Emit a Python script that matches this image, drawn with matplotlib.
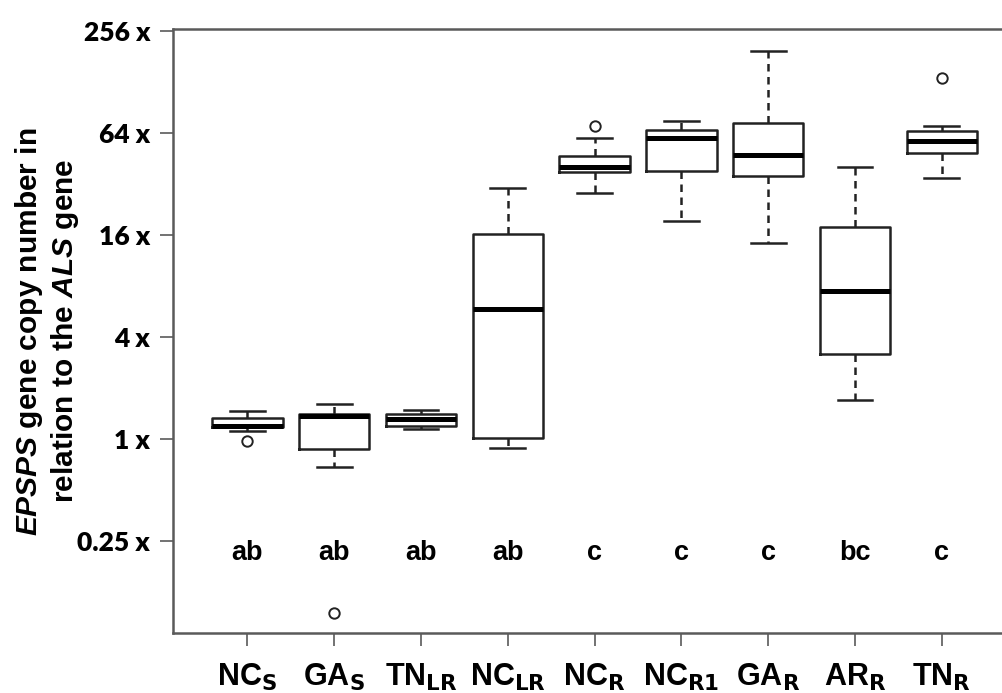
import matplotlib
matplotlib.use("Agg")
import matplotlib.pyplot as plt

# EPSPS copy number (relative to ALS) per population
groups = ["NC$_\\mathbf{S}$", "GA$_\\mathbf{S}$", "TN$_\\mathbf{LR}$", "NC$_\\mathbf{LR}$",
          "NC$_\\mathbf{R}$", "NC$_\\mathbf{R1}$", "GA$_\\mathbf{R}$", "AR$_\\mathbf{R}$",
          "TN$_\\mathbf{R}$"]
whislo = [1.12, 0.686, 1.15, 0.889, 28.2, 19.4, 14.4, 1.70, 34.6]
q1 = [1.17, 0.873, 1.19, 1.02, 37.8, 38.4, 35.8, 3.17, 48.6]
medians = [1.20, 1.37, 1.32, 5.83, 40.5, 59.5, 47.7, 7.47, 57.4]
q3 = [1.33, 1.41, 1.41, 16.2, 46.8, 66.7, 73.0, 17.8, 65.5]
whishi = [1.46, 1.62, 1.48, 30.3, 59.5, 75.6, 195.0, 40.5, 70.4]
outliers = [[0.97], [0.0944], [], [], [70.1], [], [], [], [135.7]]
letters = ["ab", "ab", "ab", "ab", "c", "c", "c", "bc", "c"]

yticks = [0.25, 1, 4, 16, 64, 256]
ytick_labels = ["0.25 x", "1 x", "4 x", "16 x", "64 x", "256 x"]

plt.rcParams["mathtext.fontset"] = "custom"
plt.rcParams["mathtext.bf"] = "Liberation Sans Narrow:bold"
plt.rcParams["mathtext.it"] = "Liberation Sans:italic:bold"
plt.rcParams["mathtext.rm"] = "Liberation Sans:bold"

fig = plt.figure(figsize=(10.03, 6.93), dpi=100)
ax = fig.add_axes([0.1725, 0.0866, 1 - 0.1725, 0.958 - 0.0866])

stats = []
for i in range(len(groups)):
    stats.append(dict(med=medians[i], q1=q1[i], q3=q3[i],
                      whislo=whislo[i], whishi=whishi[i], fliers=outliers[i]))

line_col = "#222222"
positions = list(range(1, len(groups) + 1))
ax.bxp(stats, positions=positions, widths=0.81, showfliers=True,
       boxprops=dict(color=line_col, linewidth=1.8),
       medianprops=dict(color="black", linewidth=3.6),
       whiskerprops=dict(color=line_col, linewidth=1.8, linestyle=(0, (3, 2.2))),
       capprops=dict(color=line_col, linewidth=1.8),
       capwidths=0.4,
       flierprops=dict(marker="o", markersize=7.5, markerfacecolor="none",
                       markeredgecolor=line_col, markeredgewidth=1.4))

ax.set_yscale("log", base=2)
ax.set_ylim(0.0716, 263)
ax.set_xlim(0.142, 9.705)
ax.set_yticks(yticks)
ax.set_yticklabels(ytick_labels)
ax.minorticks_off()
ax.set_xticks(positions)
ax.set_xticklabels(groups)

for lab in ax.get_yticklabels():
    lab.set_fontfamily(["Lato", "DejaVu Sans"])
    lab.set_fontweight("heavy")
    lab.set_fontsize(19)
for lab in ax.get_xticklabels():
    lab.set_fontfamily(["Liberation Sans Narrow", "Liberation Sans"])
    lab.set_fontweight("bold")
    lab.set_fontsize(22)

spine_col = "#5a5a5a"
ax.spines["right"].set_visible(False)
for s in ["left", "top", "bottom"]:
    ax.spines[s].set_color(spine_col)
    ax.spines[s].set_linewidth(1.8)
ax.tick_params(axis="both", length=9.5, width=1.2, color=spine_col)
ax.tick_params(axis="y", pad=7)
ax.tick_params(axis="x", pad=11)

# significance letters
for x, t in zip(positions, letters):
    ax.text(x, 0.211, t, ha="center", va="center", fontsize=19.5,
            fontweight="bold", family="Liberation Sans")

fig.text(0.047, 0.522,
         "$\\mathit{EPSPS}$ gene copy number in\nrelation to the $\\mathit{ALS}$ gene",
         rotation=90, ha="center", va="center", multialignment="center",
         fontsize=21.5, fontweight="bold", family="Liberation Sans",
         linespacing=1.15)

fig.savefig("out.png", dpi=100)
